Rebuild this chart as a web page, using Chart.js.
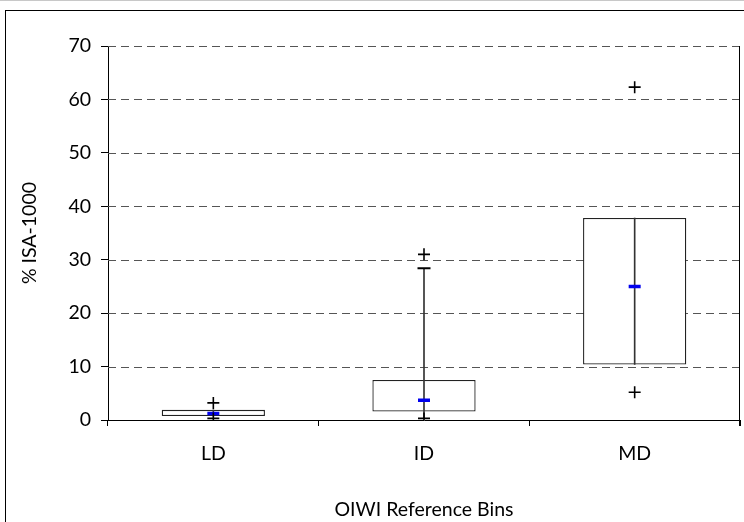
<!DOCTYPE html>
<html>
<head>
<meta charset="utf-8">
<script src="https://cdn.jsdelivr.net/npm/chart.js@4.4.1/dist/chart.umd.min.js"></script>
<style>
  html, body { margin: 0; padding: 0; background: #fff; width: 744px; height: 522px; overflow: hidden; }
  #frame { position: absolute; left: 5px; top: 10px; width: 800px; height: 600px; border: 1px solid #000; box-sizing: border-box; }
  #topline { position: absolute; left: 0; top: 0; width: 744px; height: 1px; background: #c8c8c8; }
  canvas { position: absolute; left: 0; top: 0; }
</style>
</head>
<body>
<div id="topline"></div>
<div id="frame"></div>
<canvas id="c" width="744" height="522"></canvas>
<script>
// ---- data ----
const categories   = ['LD', 'ID', 'MD'];
const q1           = [0.75, 1.6, 10.4];
const q3           = [1.9, 7.5, 37.8];
const medians      = [1.2, 3.7, 25.0];
const whiskerLow   = [0.75, 0.3, 10.4];
const whiskerHigh  = [1.9, 28.4, 37.8];
const capHigh      = [null, 28.4, null];
const outliersHigh = [3.2, 31.0, 62.3];
const outliersLow  = [0.3, 0.3, 5.2];
const yTickValues  = [0, 10, 20, 30, 40, 50, 60, 70];
const yTitle = '% ISA-1000';
const xTitle = 'OIWI Reference Bins';

const FONT = 'Lato';
const FSIZE = 19.5;

const gridPlugin = {
  id: 'dashGrid',
  beforeDatasetsDraw(chart) {
    const {ctx, chartArea, scales} = chart;
    ctx.save();
    ctx.strokeStyle = '#555';
    ctx.lineWidth = 1;
    ctx.setLineDash([8, 5]);
    yTickValues.forEach(v => {
      if (v === 0) return;
      const y = Math.round(scales.y.getPixelForValue(v)) + 0.5;
      ctx.beginPath();
      ctx.moveTo(chartArea.left, y);
      ctx.lineTo(chartArea.right, y);
      ctx.stroke();
    });
    ctx.setLineDash([]);
    ctx.strokeStyle = '#000';
    const x = Math.round(chartArea.right) - 0.5;
    ctx.beginPath();
    ctx.moveTo(x, scales.y.getPixelForValue(70));
    ctx.lineTo(x, scales.y.getPixelForValue(0) + 6);
    ctx.stroke();
    ctx.restore();
  }
};

new Chart(document.getElementById('c'), {
  type: 'bar',
  data: {
    labels: categories,
    datasets: [
      {
        type: 'line', label: 'outliersHigh', data: outliersHigh, showLine: false,
        pointStyle: 'cross', pointRadius: 6, pointBorderWidth: 1.6,
        pointBorderColor: '#000', pointBackgroundColor: '#000'
      },
      {
        type: 'line', label: 'outliersLow', data: outliersLow, showLine: false,
        pointStyle: 'cross', pointRadius: 6, pointBorderWidth: 1.6,
        pointBorderColor: '#000', pointBackgroundColor: '#000'
      },
      {
        type: 'line', label: 'median', data: medians, showLine: false,
        pointStyle: 'line', pointRadius: 6, pointBorderWidth: 3.5,
        pointBorderColor: '#0000ee', pointBackgroundColor: '#0000ee'
      },
      {
        type: 'line', label: 'cap', data: capHigh, showLine: false,
        pointStyle: 'line', pointRadius: 6.5, pointBorderWidth: 2,
        pointBorderColor: '#000', pointBackgroundColor: '#000'
      },
      {
        type: 'bar', label: 'whisker', grouped: false,
        data: whiskerLow.map((v, i) => [v, whiskerHigh[i]]),
        backgroundColor: '#333', borderWidth: 0, barThickness: 1
      },
      {
        type: 'bar', label: 'box', grouped: false,
        data: q1.map((v, i) => [v, q3[i]]),
        backgroundColor: '#fff', borderColor: '#222', borderWidth: 1.3,
        borderSkipped: false,
        categoryPercentage: 1.0, barPercentage: 0.49
      }
    ]
  },
  options: {
    responsive: false,
    animation: false,
    layout: { autoPadding: false, padding: { left: 0, right: 4, top: 46, bottom: 0 } },
    plugins: { legend: { display: false }, tooltip: { enabled: false } },
    scales: {
      x: {
        afterFit(scale) { scale.height = 102; scale.paddingLeft = 0; scale.paddingRight = 0; },
        grid: { offset: true, drawOnChartArea: false, drawTicks: true, tickLength: 6, color: '#000', tickColor: '#000' },
        border: { display: true, color: '#000', width: 1 },
        ticks: { color: '#000', padding: 16, font: { family: FONT, size: FSIZE } },
        title: { display: true, text: xTitle, color: '#000', font: { family: FONT, size: FSIZE }, padding: { top: 0, bottom: 1 } }
      },
      y: {
        min: 0, max: 70,
        afterFit(scale) { scale.width = 108; },
        afterBuildTicks(scale) { scale.ticks = yTickValues.map(v => ({ value: v })); },
        grid: { drawOnChartArea: false, drawTicks: true, tickLength: 7, color: '#000', tickColor: '#000' },
        border: { display: true, color: '#000', width: 1 },
        ticks: { color: '#000', padding: 10, font: { family: FONT, size: FSIZE } },
        title: { display: true, text: yTitle, color: '#000', font: { family: FONT, size: FSIZE }, padding: { top: 18, bottom: 0 } }
      }
    }
  },
  plugins: [gridPlugin]
});
</script>
</body>
</html>
